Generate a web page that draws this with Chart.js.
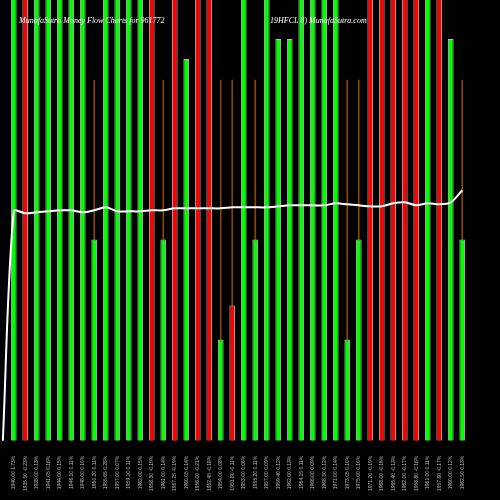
<!DOCTYPE html>
<html>
<head>
<script src="https://cdn.jsdelivr.net/npm/chart.js@4"></script>
<style>
  body { margin: 0; background: #000; }
  #wrap { width: 500px; height: 500px; }
</style>
</head>
<body>
<div id="wrap"><canvas id="flow"></canvas></div>
<script>
const labels = ['1940.00 1.73%', '1935.50 -0.23%', '1938.00 0.13%', '1941.05 0.16%', '1944.00 0.15%', '1946.10 0.11%',
  '1948.00 0.10%', '1950.20 0.11%', '1955.65 0.28%', '1957.00 0.07%', '1959.10 0.11%', '1962.00 0.15%',
  '1958.30 -0.19%', '1961.00 0.14%', '1957.25 -0.19%', '1960.05 0.14%', '1956.00 -0.21%', '1952.45 -0.18%',
  '1954.00 0.08%', '1951.80 -0.11%', '1953.00 0.06%', '1955.20 0.11%', '1957.00 0.09%', '1959.40 0.12%',
  '1962.00 0.13%', '1964.15 0.11%', '1966.00 0.09%', '1968.30 0.12%', '1971.00 0.14%', '1973.05 0.10%',
  '1975.00 0.10%', '1971.20 -0.19%', '1968.00 -0.16%', '1965.40 -0.13%', '1962.00 -0.17%', '1958.80 -0.16%',
  '1961.00 0.11%', '1957.60 -0.17%', '1960.00 0.12%', '1962.50 0.13%'];
const volume = [600, 600, 600, 600, 600, 600, 600, 201, 600, 600, 600, 600, 600, 201, 600, 381, 600, 600, 101, 135,
  600, 201, 600, 401, 401, 600, 600, 600, 600, 101, 201, 600, 600, 600, 600, 600, 600, 600, 401, 201];
const up = [1, 0, 1, 1, 1, 1, 1, 1, 1, 1, 1, 1, 0, 1, 0, 1, 0, 0, 1, 0,
  1, 1, 1, 1, 1, 1, 1, 1, 1, 1, 1, 0, 0, 0, 0, 0, 1, 0, 1, 1];
const flowLine = [229, 227, 228, 229, 230, 230, 228, 230, 233, 229, 229, 229, 230, 230, 232, 232, 232, 232, 232, 233,
  233, 233, 233, 234, 235, 235, 235, 235, 237, 236, 235, 234, 234, 237, 238, 235, 237, 236, 238, 250];
const wickLevel = 360;

const linePts = [{ x: -0.95, y: 0 }].concat(flowLine.map((v, i) => ({ x: i, y: v })));

new Chart(document.getElementById('flow'), {
  data: {
    labels: labels,
    datasets: [
      {
        type: 'line',
        data: linePts,
        xAxisID: 'x2',
        borderColor: '#fff',
        borderWidth: 2,
        pointRadius: 0,
        tension: 0.3,
        clip: false,
        order: 0
      },
      {
        type: 'bar',
        data: volume,
        backgroundColor: up.map(u => u ? '#00ff00' : '#ff0000'),
        borderColor: '#bbb',
        borderWidth: 1,
        barPercentage: 0.5,
        categoryPercentage: 1,
        grouped: false,
        order: 1
      },
      {
        type: 'bar',
        data: labels.map(() => wickLevel),
        backgroundColor: '#8a4500',
        barThickness: 1,
        grouped: false,
        order: 2
      }
    ]
  },
  options: {
    responsive: true,
    maintainAspectRatio: false,
    animation: false,
    layout: { padding: { left: 8, right: 32, top: 0, bottom: 2 } },
    plugins: { legend: { display: false }, tooltip: { enabled: false } },
    scales: {
      x: {
        grid: { display: false },
        border: { display: false },
        ticks: { color: '#bbb', font: { size: 5 }, minRotation: 90, maxRotation: 90, autoSkip: false, padding: 7 }
      },
      x2: { type: 'linear', min: -0.5, max: 39.5, display: false },
      y: { min: 0, max: 440, display: false }
    }
  },
  plugins: [{
    id: 'heading',
    afterDraw(chart) {
      const c = chart.ctx;
      c.save();
      c.fillStyle = '#fff';
      c.font = 'italic 8px "Liberation Serif", serif';
      c.textBaseline = 'middle';
      c.fillText('MunafaSutra Money Flow Charts for 961772', 19, 21);
      c.fillText('19HFCL 8) MunafaSutra.com', 270, 21);
      c.restore();
    }
  }]
});
</script>
</body>
</html>
